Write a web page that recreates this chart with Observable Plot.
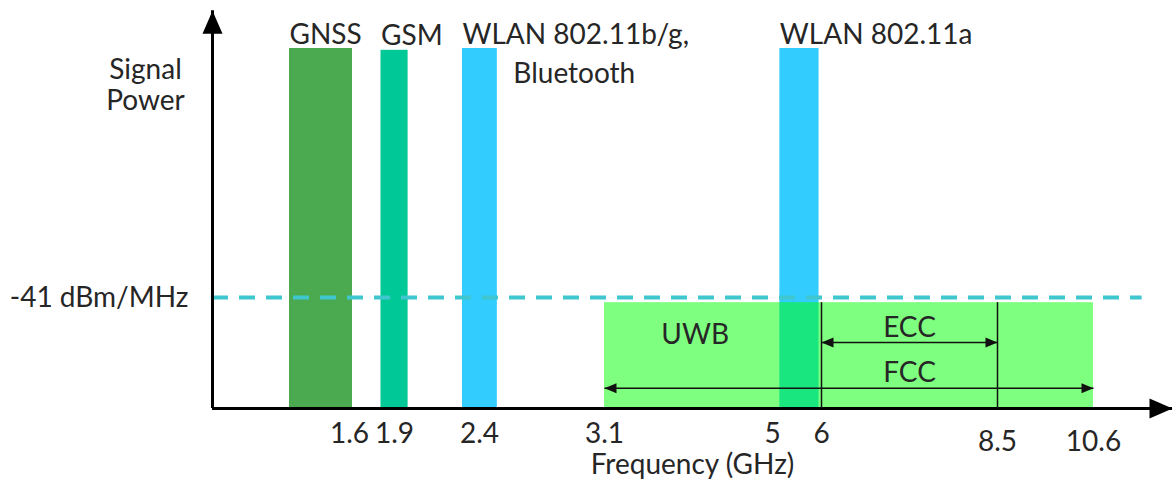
<!DOCTYPE html>
<html><head><meta charset="utf-8">
<script src="https://cdn.jsdelivr.net/npm/d3@7"></script>
<script src="https://cdn.jsdelivr.net/npm/@observablehq/plot@0.6"></script>
<style>body{margin:0;background:#fff}</style>
</head><body><div id="chart"></div>
<script>
// Narrowband services: frequency range (GHz) and relative signal power (0 = axis, 100 = bar top)
const bandNames = ["GNSS", "GSM", "WLAN 802.11b/g,", "WLAN 802.11a"];
const bandLow   = [1.2, 1.81, 2.3, 5.15];
const bandHigh  = [1.62, 1.98, 2.5, 5.95];
const bandPower = [100, 99.5, 100, 100];
const bandSubLabels = ["", "", "Bluetooth", ""];

// Ultra-wideband
const uwbName = "UWB";
const uwbLow = 3.1;
const uwbHigh = 10.6;
const uwbPower = 29.4;

// Emission limit
const limitLevel = 30.8;
const limitLabel = "-41 dBm/MHz";
const limitSpan = [0, 11.4];

// Regulations
const regNames = ["ECC", "FCC"];
const regLow   = [6, 3.1];
const regHigh  = [8.5, 10.6];
const regLevel = [18.3, 5.6];

// Axis ticks
const tickValuesUpper = [1.6, 1.9, 2.4, 3.1, 5, 6];
const tickValuesLower = [8.5, 10.6];
const xAxisEnd = 11.9;
const yAxisEnd = 110.5;

const bands = bandNames.map((name, i) => ({name, lo: bandLow[i], hi: bandHigh[i], power: bandPower[i], sub: bandSubLabels[i]}));
const uwb = [{name: uwbName, lo: uwbLow, hi: uwbHigh, power: uwbPower}];
const regs = regNames.map((name, i) => ({name, lo: regLow[i], hi: regHigh[i], level: regLevel[i]}));
const eccMid = (regLow[0] + regHigh[0]) / 2;

const ink = "#262626";
const FS = 28;

const chart = Plot.plot({
  width: 1175,
  height: 482,
  marginLeft: 212,
  marginRight: 3,
  marginTop: 10,
  marginBottom: 74,
  style: "font-family: Lato, sans-serif; font-size: 28px; background: #fff; overflow: visible;",
  x: {
    type: "linear",
    domain: [0, 1.2, 1.6, 1.9, 2.4, 3.1, 5, 6, 8.5, 10.6, 11.9],
    range: [212, 289, 349, 394, 479, 604, 772, 821, 997, 1093, 1172]
  },
  y: {type: "linear", domain: [0, 100], range: [408, 48]},
  color: {domain: bandNames, range: ["#4BAA50", "#00C896", "#33CCFF", "#33CCFF"]},
  marks: [
    Plot.rect(bands, {x1: "lo", x2: "hi", y1: 0, y2: "power", fill: "name"}),
    Plot.rect(uwb, {x1: "lo", x2: "hi", y1: 0, y2: "power", fill: "#00FF00", fillOpacity: 0.5}),
    Plot.ruleY([limitLevel], {x1: limitSpan[0], x2: limitSpan[1], stroke: "#3FC6CF", strokeWidth: 4, strokeDasharray: "16,11"}),
    Plot.ruleX([regLow[0], regHigh[0]], {y1: 0, y2: uwbPower, stroke: "#111", strokeWidth: 1.5}),
    Plot.link(regs, {x1: "lo", x2: "hi", y1: "level", y2: "level", stroke: "#111", strokeWidth: 1.5}),
    Plot.vector(regs, {x: "hi", y: "level", rotate: 90, anchor: "end", shape: "spike", length: 12, r: 5, fill: "#111", stroke: "none"}),
    Plot.vector(regs, {x: "lo", y: "level", rotate: -90, anchor: "end", shape: "spike", length: 12, r: 5, fill: "#111", stroke: "none"}),
    // axes lines with arrow heads
    Plot.ruleY([0], {x1: 0, x2: xAxisEnd, stroke: "#000", strokeWidth: 3}),
    Plot.ruleX([0], {y1: 0, y2: yAxisEnd, stroke: "#000", strokeWidth: 3}),
    Plot.vector([{x: 0, y: yAxisEnd}], {x: "x", y: "y", rotate: 0, anchor: "end", shape: "spike", length: 23, r: 10, fill: "#000", stroke: "none"}),
    Plot.vector([{x: xAxisEnd, y: 0}], {x: "x", y: "y", rotate: 90, anchor: "end", shape: "spike", length: 23, r: 10, fill: "#000", stroke: "none"}),
    // tick labels
    Plot.axisX(tickValuesUpper, {tickSize: 0, tickPadding: 15, label: null, fontSize: FS, fill: ink, tickFormat: d => String(d)}),
    Plot.axisX(tickValuesLower, {tickSize: 0, tickPadding: 23, label: null, fontSize: FS, fill: ink, tickFormat: d => String(d)}),
    Plot.axisY([limitLevel], {tickSize: 0, tickPadding: 24, label: null, fontSize: FS, fill: ink, tickFormat: () => limitLabel}),
    Plot.text(["Frequency (GHz)"], {frameAnchor: "bottom", lineAnchor: "top", dy: 46, fontSize: FS, fill: ink}),
    Plot.text(["Signal\nPower"], {frameAnchor: "top-left", textAnchor: "middle", lineAnchor: "top", dx: -67, dy: 46, lineHeight: 31 / 28, fontSize: FS, fill: ink}),
    // band labels
    Plot.text(bands, {x: "lo", y: "power", text: "name", textAnchor: "start", lineAnchor: "bottom", dy: -5, fontSize: FS, fill: ink}),
    Plot.text(bands.filter(d => d.sub), {x: "hi", y: "power", text: "sub", textAnchor: "start", lineAnchor: "bottom", dx: 16, dy: 34, fontSize: FS, fill: ink}),
    Plot.text(uwb, {x: d => (d.lo + bandLow[3]) / 2, y: () => regLevel[0], text: "name", lineAnchor: "bottom", dy: 1, fontSize: FS, fill: ink}),
    Plot.text(regs, {x: () => eccMid, y: "level", text: "name", lineAnchor: "bottom", dy: -6, fontSize: FS, fill: ink})
  ]
});
document.getElementById("chart").appendChild(chart);
</script>
</body></html>
